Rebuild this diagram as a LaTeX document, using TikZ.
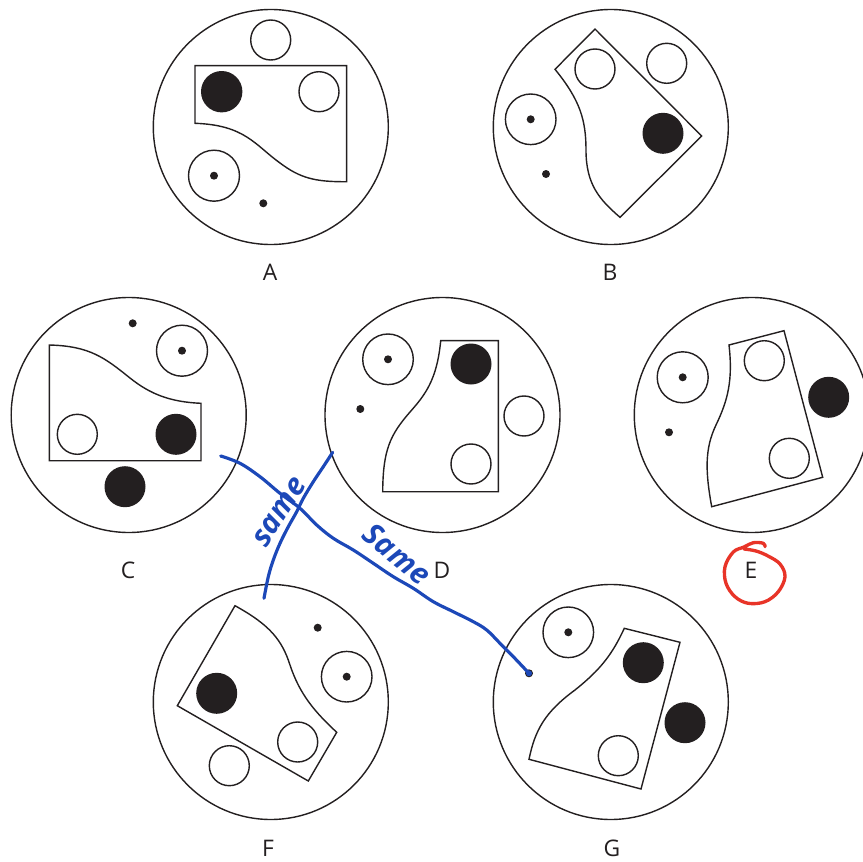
\documentclass[tikz,border=0pt]{standalone}
\usepackage{fontspec}
\setmainfont{Open Sans}
\newfontfamily\handfont{Open Sans}
\usetikzlibrary{positioning}

\definecolor{penblue}{RGB}{28,72,184}
\definecolor{penred}{RGB}{232,52,40}
\definecolor{ink}{RGB}{35,31,32}

\begin{document}
\begin{tikzpicture}[
    x=0.02cm, y=-0.02cm,
    panel/.style={draw=ink, line width=0.8pt},
    outline/.style={draw=ink, line width=0.8pt, line join=miter},
    blank/.style={draw=ink, line width=0.8pt, fill=white},
    disc/.style={fill=ink},
    letter/.style={text=ink, font=\fontsize{13}{15}\selectfont, inner sep=0pt},
    pen/.style={draw=penblue, line width=1.8pt, line cap=round, line join=round},
    marker/.style={draw=penred, line width=1.9pt, line cap=round, line join=round},
    note/.style={text=penblue, font=\handfont\bfseries\itshape\fontsize{17}{19}\selectfont, inner sep=0pt}
]
\useasboundingbox (0,0) rectangle (863,862);

% Outer circles
\foreach \n/\x/\y in {A/270.8/127, B/610.8/127, C/128.7/415, D/442.5/415,
                      E/751.8/415, F/270.8/702, G/610.8/702}
    \draw[panel] (\x,\y) circle (117.5);

% Letters
\foreach \n/\x/\y in {A/270/272, B/610/272, C/128/570, D/442/570,
                      E/751/570, F/268/848, G/612/848}
    \node[letter] (lab\n) at (\x,\y) {\n};

% Panel A
\draw[blank] (270.7,40) circle (20);
\draw[outline] (195,65.7) -- (346.7,65.7) -- (346.7,181.7)
    .. controls (315,182) and (300,178) .. (280,163)
    .. controls (255,145) and (245,125) .. (195,123.3) -- cycle;
\fill[disc] (221.7,91.7) circle (20.7);
\draw[blank] (319,91.7) circle (20);
\draw[blank] (214,175.7) circle (25.5);
\fill[disc] (214,175.7) circle (4);
\fill[disc] (263.3,203.3) circle (4);

% Panel B
\draw[outline] (555,69.3) -- (595,29) -- (701.7,136) -- (620,217.3)
    .. controls (600,200) and (586,185) .. (586,150)
    .. controls (586,120) and (580,100) .. (555,69.3) -- cycle;
\draw[blank] (595,69) circle (20);
\draw[blank] (666.7,63.3) circle (20);
\fill[disc] (663,133.3) circle (20.5);
\draw[blank] (530.7,119.3) circle (25.3);
\fill[disc] (530.7,119.3) circle (4);
\fill[disc] (546,174) circle (4);

% Panel C
\draw[outline] (49.3,345)
    .. controls (90,346) and (105,358) .. (130,378)
    .. controls (150,394) and (170,402) .. (201,403.3)
    -- (201,460.7) -- (49.3,460.7) -- cycle;
\draw[blank] (77.3,434.3) circle (20);
\fill[disc] (176,434.3) circle (20.5);
\fill[disc] (125,486.7) circle (20.5);
\draw[blank] (182,350.7) circle (25.5);
\fill[disc] (182,350.7) circle (4);
\fill[disc] (132.7,323.3) circle (4);

% Panel D
\draw[outline] (440.7,340.7) -- (498.3,340.7) -- (498.3,491.7) -- (382.7,491.7)
    .. controls (383,450) and (390,435) .. (410,412)
    .. controls (425,395) and (437,380) .. (440.7,340.7) -- cycle;
\fill[disc] (471,364) circle (20.5);
\draw[blank] (471,464) circle (20);
\draw[blank] (524,416) circle (20);
\draw[blank] (388,359.3) circle (25.3);
\fill[disc] (388,359.3) circle (4);
\fill[disc] (360.3,409) circle (4);

% Panel E
\draw[outline] (729,345) -- (784,330.7) -- (822.7,477.3) -- (711.7,506.7)
    .. controls (705,470) and (705,448) .. (716,425)
    .. controls (728,400) and (733,380) .. (729,345) -- cycle;
\draw[blank] (764.3,360.7) circle (20);
\draw[blank] (789.3,458.3) circle (20);
\fill[disc] (828.7,397.3) circle (20.5);
\draw[blank] (682.7,377.3) circle (25.5);
\fill[disc] (682.7,377.3) circle (4);
\fill[disc] (669,432.3) circle (4);

% Panel F
\draw[outline] (235,605.7)
    .. controls (270,625) and (282,640) .. (290,665)
    .. controls (300,695) and (315,712) .. (336.7,732.3)
    -- (308.3,781) -- (177.3,705.7) -- cycle;
\fill[disc] (216.7,693.3) circle (20.5);
\draw[blank] (297.7,742) circle (20);
\draw[blank] (229.3,765.7) circle (20);
\draw[blank] (346.7,676.7) circle (25.3);
\fill[disc] (346.7,676.7) circle (4);
\fill[disc] (317.7,627.7) circle (4);

% Panel G
\draw[outline] (624.3,628.3) -- (680,642.3) -- (641,789) -- (529,759.3)
    .. controls (535,730) and (545,712) .. (575,690)
    .. controls (600,670) and (612,655) .. (624.3,628.3) -- cycle;
\fill[disc] (643.3,662.7) circle (20.5);
\fill[disc] (685,722.7) circle (20.5);
\draw[blank] (618.3,755.7) circle (20);
\draw[blank] (568.3,632.3) circle (25.3);
\fill[disc] (568.3,632.3) circle (4);
\coordinate (gdot) at (529,673.3);
\fill[disc] (gdot) circle (4);

% Hand marks
\coordinate (cstart) at (220.7,456);
\coordinate (dstart) at (332.7,452.3);
\coordinate (fend) at (264,598.3);
\draw[pen] plot[smooth, tension=0.6] coordinates {(cstart) (240,463.3) (260,476.7)
    (280,493.3) (300,508.3) (316.7,525) (333.3,538.3) (353.3,550) (373.3,563.3)
    (393.3,576.7) (413.3,588.3) (433.3,601.7) (453.3,611.7) (473.3,621.7)
    (486.7,630) (500,643.3) (513.3,656.7) (gdot)};
\fill[penblue] (gdot) circle (3);
\draw[pen] plot[smooth, tension=0.6] coordinates {(dstart) (323.3,466.7) (313.3,481.7)
    (303.3,498.3) (296.7,511.7) (288.3,526.7) (280,543.3) (273.3,560)
    (268.3,576.7) (fend)};
\node[note, rotate=57] (same1) at (280,512) {same};
\node[note, rotate=-39] (same2) at (397,554) {Same};

% Ring round E
\draw[marker] plot[smooth, tension=0.6] coordinates {(765,546.7) (763.3,543.3)
    (753.3,542.7) (744,547) (733.3,552) (725,566.7) (726,583.3) (735,596.7)
    (748.3,603.3) (765,601.7) (778.3,591.7) (785,576.7) (780,564) (768,556)
    (756,551) (744,549)};

\end{tikzpicture}
\end{document}
